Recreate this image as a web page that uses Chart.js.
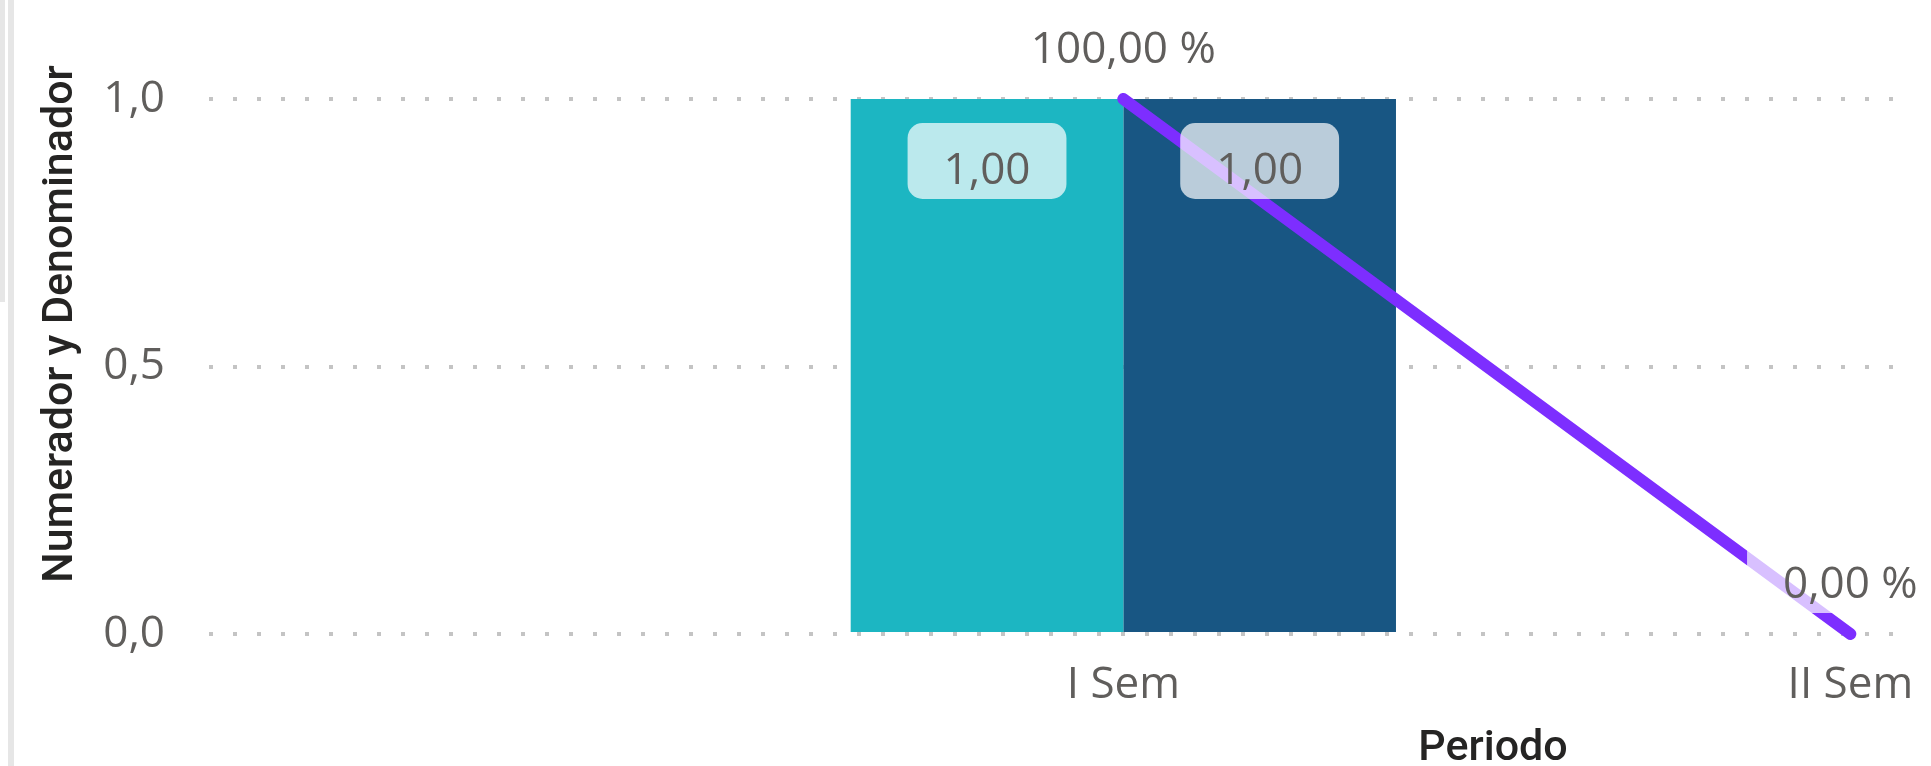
<!DOCTYPE html>
<html>
<head>
<meta charset="utf-8">
<title>Numerador y Denominador por Periodo</title>
<script src="https://cdn.jsdelivr.net/npm/chart.js@4"></script>
<style>
  html, body { margin: 0; padding: 0; background: #fff; }
  #wrap { position: relative; width: 1931px; height: 766px; }
</style>
</head>
<body>
<div id="wrap"><canvas id="comboChart"></canvas></div>
<script>
// datos del grafico
const periods = ["I Sem", "II Sem"];
const numerador = [1, null];
const denominador = [1, null];
const porcentaje = [100, 0];
const yTicks = [0, 0.5, 1];

const TEXT = "#605E5C";
const TITLE = "#252423";
const LABEL_FONT = '44px "Open Sans"';

function fmt(v, d) {
  return v.toFixed(d).replace(".", ",");
}

function points(values) {
  return values.map((v, i) => ({ x: i + 1, y: v }));
}

function roundRect(ctx, x, y, w, h, r) {
  ctx.beginPath();
  ctx.moveTo(x + r, y);
  ctx.arcTo(x + w, y, x + w, y + h, r);
  ctx.arcTo(x + w, y + h, x, y + h, r);
  ctx.arcTo(x, y + h, x, y, r);
  ctx.arcTo(x, y, x + w, y, r);
  ctx.closePath();
}

// etiquetas de datos con fondo blanco translucido
const dataLabels = {
  id: "dataLabels",
  afterDatasetsDraw(chart) {
    const ctx = chart.ctx;
    ctx.save();
    ctx.font = LABEL_FONT;
    ctx.textAlign = "center";
    ctx.textBaseline = "alphabetic";
    chart.data.datasets.forEach((ds, di) => {
      const meta = chart.getDatasetMeta(di);
      meta.data.forEach((el, i) => {
        const v = ds.data[i].y;
        if (v === null) return;
        let text, base;
        if (ds.type === "line") {
          text = fmt(v, 2) + " %";
          base = el.y - 36;
        } else {
          text = fmt(v, 2);
          base = el.y + 85;
        }
        const w = ctx.measureText(text).width;
        ctx.fillStyle = "rgba(255,255,255,0.7)";
        roundRect(ctx, el.x - w / 2 - 36, base - 61, w + 72, 76, 15);
        ctx.fill();
        ctx.fillStyle = TEXT;
        ctx.fillText(text, el.x, base);
      });
    });
    ctx.restore();
  }
};

// titulos de ejes y borde del panel
const axisTitles = {
  id: "axisTitles",
  beforeDraw(chart) {
    const ctx = chart.ctx;
    ctx.save();
    ctx.fillStyle = "#E6E6E6";
    ctx.fillRect(0, 0, 5, 302);
    ctx.fillRect(8, 0, 6, 766);
    ctx.restore();
  },
  afterDraw(chart) {
    const ctx = chart.ctx;
    ctx.save();
    ctx.fillStyle = TITLE;
    ctx.font = '500 43px Roboto';
    ctx.textAlign = "center";
    ctx.textBaseline = "alphabetic";
    ctx.fillText("Periodo", 1493, 760);
    ctx.translate(72, 324);
    ctx.rotate(-Math.PI / 2);
    ctx.fillText("Numerador y Denominador", 0, 0);
    ctx.restore();
  }
};

document.addEventListener("DOMContentLoaded", function () {
  const ctx = document.getElementById("comboChart");

  new Chart(ctx, {
    type: "bar",
    data: {
      datasets: [
        {
          type: "line",
          label: "% Numerador / Denominador",
          data: points(porcentaje),
          yAxisID: "y2",
          borderColor: "#7D2EFF",
          borderWidth: 12,
          borderCapStyle: "round",
          pointRadius: 0,
          pointHoverRadius: 0,
          tension: 0,
          clip: false,
          order: 0
        },
        {
          label: "Numerador",
          data: points(numerador),
          backgroundColor: "#1CB6C2",
          order: 1
        },
        {
          label: "Denominador",
          data: points(denominador),
          backgroundColor: "#185683",
          order: 1
        }
      ]
    },
    options: {
      responsive: true,
      maintainAspectRatio: false,
      animation: false,
      layout: { padding: { top: 99, right: 26, left: 0, bottom: 0 } },
      datasets: { bar: { categoryPercentage: 0.75, barPercentage: 1 } },
      plugins: {
        legend: { display: false },
        tooltip: { enabled: false }
      },
      scales: {
        x: {
          type: "linear",
          min: -0.2576,
          max: 2.0740,
          offset: false,
          afterBuildTicks: s => { s.ticks = periods.map((p, i) => ({ value: i + 1 })); },
          afterFit: s => { s.height = 132; },
          ticks: {
            callback: v => periods[v - 1],
            font: { family: "Open Sans", size: 44 },
            color: TEXT,
            padding: 17,
            maxRotation: 0,
            autoSkip: false
          },
          grid: { display: false },
          border: { display: false }
        },
        y: {
          min: 0,
          max: 1,
          afterBuildTicks: s => { s.ticks = yTicks.map(v => ({ value: v })); },
          afterFit: s => { s.width = 209; },
          ticks: {
            callback: v => fmt(v, 1),
            font: { family: "Open Sans", size: 44 },
            color: TEXT,
            padding: 44
          },
          grid: { color: "#C4C4C4", lineWidth: 4, drawTicks: false },
          border: { display: false, dash: [4, 20] }
        },
        y2: { display: false, min: 0, max: 100 }
      }
    },
    plugins: [dataLabels, axisTitles]
  });
});
</script>
</body>
</html>
